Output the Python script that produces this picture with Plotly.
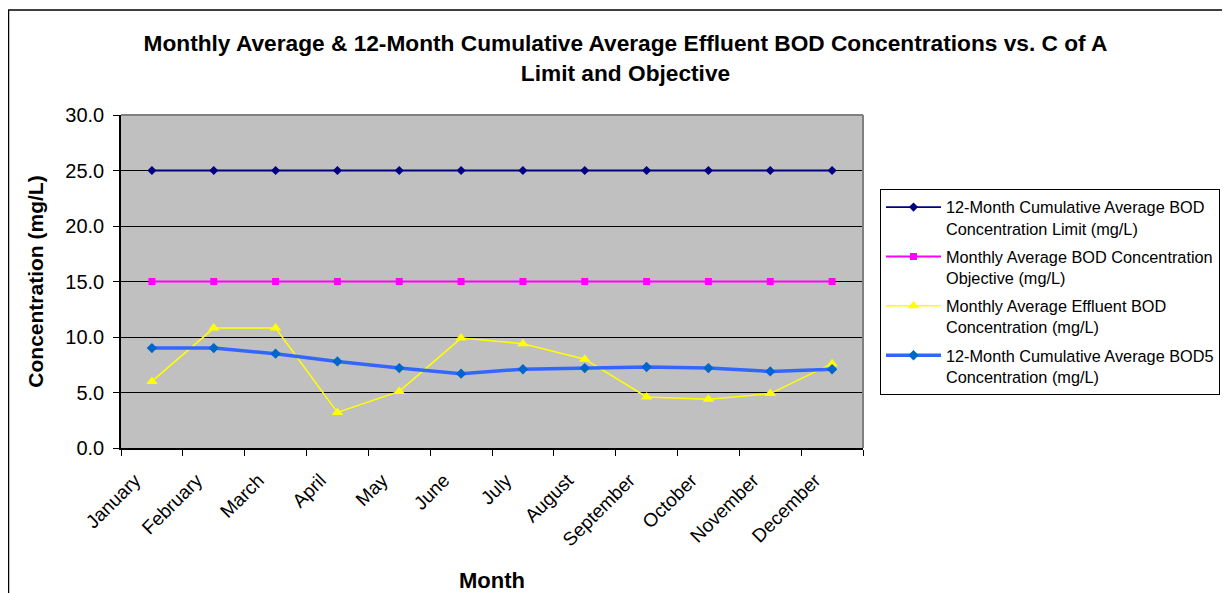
import plotly.graph_objects as go

months = ["January", "February", "March", "April", "May", "June", "July",
          "August", "September", "October", "November", "December"]
limit_12m = [25.0] * 12
objective_monthly = [15.0] * 12
effluent_monthly = [6.0, 10.8, 10.8, 3.2, 5.1, 9.9, 9.4, 8.0, 4.6, 4.4, 4.9, 7.6]
cumulative_12m = [9.0, 9.0, 8.5, 7.8, 7.2, 6.7, 7.1, 7.2, 7.3, 7.2, 6.9, 7.1]

names = [
    "12-Month Cumulative Average BOD<br>Concentration Limit (mg/L)",
    "Monthly Average BOD Concentration<br>Objective (mg/L)",
    "Monthly Average Effluent BOD<br>Concentration (mg/L)",
    "12-Month Cumulative Average BOD5<br>Concentration (mg/L)",
]

fig = go.Figure()
fig.add_trace(go.Scatter(x=months, y=limit_12m, name=names[0], mode="lines+markers",
                         line=dict(color="#000080", width=1.8),
                         marker=dict(symbol="diamond", size=7, color="#000080"),
                         legendgroup="a"))
fig.add_trace(go.Scatter(x=months, y=objective_monthly, name=names[1], mode="lines+markers",
                         line=dict(color="#FF00FF", width=1.8),
                         marker=dict(symbol="square", size=7, color="#FF00FF"),
                         legendgroup="b"))
fig.add_trace(go.Scatter(x=months, y=effluent_monthly, name=names[2], mode="lines+markers",
                         line=dict(color="#FFFF00", width=1.5),
                         marker=dict(symbol="triangle-up", size=10, color="#FFFF00"),
                         legendgroup="c"))
fig.add_trace(go.Scatter(x=months, y=cumulative_12m, name=names[3], mode="lines+markers",
                         line=dict(color="#3366FF", width=3.5),
                         marker=dict(symbol="diamond", size=8, color="#0066CC"),
                         legendgroup="d"))

font_family = "Liberation Sans, Arial, sans-serif"

# The page body has an 8px margin, so the figure is offset by (8, 8) in the window.
W, H = 1222, 585
L, T = 113, 107
PW, PH = 742, 333

fig.update_layout(
    width=W, height=H,
    margin=dict(l=L, r=W - L - PW, t=T, b=H - T - PH, autoexpand=False),
    paper_bgcolor="white",
    plot_bgcolor="#C0C0C0",
    font=dict(family=font_family, color="black"),
    title=dict(
        text="<b>Monthly Average & 12-Month Cumulative Average Effluent BOD Concentrations vs. C of A<br>Limit and Objective</b>",
        x=617.5 / W, xref="container", xanchor="center",
        y=1 - 43 / H, yref="container", yanchor="middle",
        font=dict(size=22.7, family=font_family, color="black"),
    ),
    legend=dict(
        x=(880 - 121) / PW, y=(448 - 189) / PH, xanchor="left", yanchor="top",
        bordercolor="black", borderwidth=1, bgcolor="white",
        font=dict(size=16.3, family=font_family, color="black"),
        traceorder="grouped", tracegroupgap=4, valign="top",
        itemwidth=55,
    ),
    showlegend=True,
)

fig.update_xaxes(
    type="category", range=[-0.5, 11.5],
    showgrid=False,
    showline=True, linecolor="black", linewidth=1.5,
    ticks="outside", tickson="boundaries", ticklen=6, tickcolor="black", tickwidth=1,
    tickangle=-45,
    ticklabelshift=-17, ticklabelstandoff=12,
    tickfont=dict(size=19, family=font_family, color="black"),
    title=dict(text="<b>Month</b>", font=dict(size=22, family=font_family, color="black"), standoff=41),
)
fig.update_yaxes(
    range=[0, 30], dtick=5, tickformat=".1f",
    showgrid=True, gridcolor="black", gridwidth=1,
    showline=True, linecolor="black", linewidth=1.5,
    ticks="outside", ticklen=6, tickcolor="black", tickwidth=1,
    ticklabelstandoff=5,
    tickfont=dict(size=20, family=font_family, color="black"),
    zeroline=False,
    title=dict(text="<b>Concentration (mg/L)</b>", font=dict(size=21, family=font_family, color="black"), standoff=16),
)

# plot area top/right border (gray) and outer chart border
fig.add_shape(type="line", xref="paper", yref="paper", x0=0, x1=1, y0=1, y1=1,
              line=dict(color="#808080", width=2), layer="above")
fig.add_shape(type="line", xref="paper", yref="paper", x0=1, x1=1, y0=0, y1=1,
              line=dict(color="#808080", width=2), layer="above")
fig.add_shape(type="line", xref="paper", yref="paper",
              x0=(8 - 121) / PW, x1=(1240 - 121) / PW,
              y0=(448 - 10) / PH, y1=(448 - 10) / PH,
              line=dict(color="black", width=1.5), layer="above")
fig.add_shape(type="line", xref="paper", yref="paper",
              x0=(8.5 - 121) / PW, x1=(8.5 - 121) / PW,
              y0=(448 - 10) / PH, y1=(448 - 600) / PH,
              line=dict(color="black", width=1.5), layer="above")

fig.write_html("out.html")
